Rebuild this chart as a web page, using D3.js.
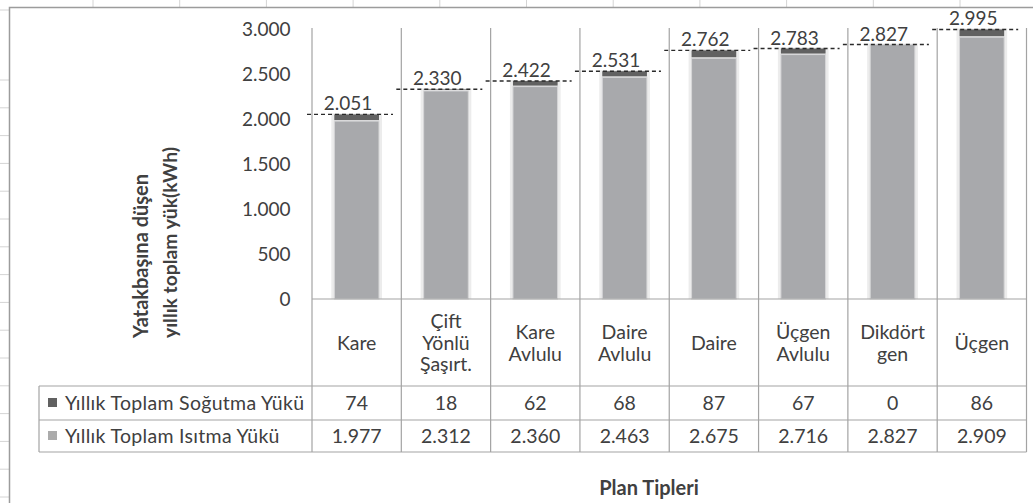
<!DOCTYPE html>
<html><head><meta charset="utf-8">
<script src="https://cdn.jsdelivr.net/npm/d3@7"></script>
<style>
html,body{margin:0;padding:0;background:#fff;}
svg{display:block;}
text{font-family:Lato,"Open Sans",sans-serif;fill:#404040;}
</style></head>
<body>
<svg id="c" width="1033" height="503"></svg>
<script>
// ---- data ----
const categories = ["Kare", "Çift\nYönlü\nŞaşırt.", "Kare\nAvlulu", "Daire\nAvlulu", "Daire", "Üçgen\nAvlulu", "Dikdört\ngen", "Üçgen"];
const coolingLoad = [74, 18, 62, 68, 87, 67, 0, 86];
const heatingLoad = [1977, 2312, 2360, 2463, 2675, 2716, 2827, 2909];
const totalLoad = [2051, 2330, 2422, 2531, 2762, 2783, 2827, 2995];
const seriesNames = ["Yıllık Toplam Soğutma Yükü", "Yıllık Toplam Isıtma Yükü"];
const yTicks = [0, 500, 1000, 1500, 2000, 2500, 3000];
const yTitle = ["Yatakbaşına düşen", "yıllık toplam yük(kWh)"];
const xTitle = "Plan Tipleri";

const tr = d3.formatLocale({decimal: ",", thousands: ".", grouping: [3], currency: ["", ""]});
const fmt = tr.format(",d");

const svg = d3.select("#c");
const W = 1033, H = 503;
const gridCol = "#d4d4d4", lineCol = "#a3a3a3";
const darkCol = "#616161", lightCol = "#a8a9ac";

// spreadsheet background lines
svg.append("g").selectAll("line").data(d3.range(11)).join("line")
  .attr("x1", i => 93 + i * 86.7).attr("x2", i => 93 + i * 86.7)
  .attr("y1", 0).attr("y2", 7).attr("stroke", gridCol);
svg.append("g").selectAll("line").data([10].concat(d3.range(16).map(i => 80 + i * 27.8))).join("line")
  .attr("x1", 0).attr("x2", 9).attr("y1", d => d).attr("y2", d => d).attr("stroke", gridCol);

// chart frame
svg.append("path").attr("d", `M9.5,${H} L9.5,7.5 L${W},7.5`).attr("fill", "none")
  .attr("stroke", "#9c9c9c").attr("stroke-width", 1.5);

// scales
const x = d3.scaleBand().domain(d3.range(categories.length)).range([312, 1026.5]);
const y = d3.scaleLinear().domain([0, 3000]).range([299, 29]);
const bw = x.bandwidth() * 0.5;
const bx = i => x(i) + (x.bandwidth() - bw) / 2;

// y axis
const yAxis = d3.axisLeft(y).tickValues(yTicks).tickFormat(fmt).tickSize(0).tickPadding(22);
const gy = svg.append("g").attr("transform", "translate(312.5,0)").call(yAxis);
gy.select(".domain").remove();
gy.selectAll("text").style("font-family", "Lato,sans-serif").style("font-size", "19px").attr("fill", "#404040");

// bars: glow
const bars = svg.append("g");
bars.selectAll("rect.glow").data(heatingLoad).join("rect").attr("class", "glow")
  .attr("x", (d, i) => bx(i) - 3).attr("width", bw + 6)
  .attr("y", (d, i) => y(totalLoad[i]) - 1).attr("height", (d, i) => y(0) - y(totalLoad[i]) + 1)
  .attr("fill", "#ececec");
bars.selectAll("rect.heat").data(heatingLoad).join("rect").attr("class", "heat")
  .attr("x", (d, i) => bx(i)).attr("width", bw)
  .attr("y", d => y(d)).attr("height", d => y(0) - y(d))
  .attr("fill", lightCol).attr("stroke", "#d6d6d8").attr("stroke-width", 1);
bars.selectAll("rect.cool").data(coolingLoad).join("rect").attr("class", "cool")
  .attr("x", (d, i) => bx(i)).attr("width", bw)
  .attr("y", (d, i) => y(heatingLoad[i] + d)).attr("height", (d, i) => Math.max(0, y(heatingLoad[i]) - y(heatingLoad[i] + d) - 1))
  .attr("fill", darkCol);

// dashed total lines and labels
const tl = svg.append("g");
tl.selectAll("line").data(totalLoad).join("line")
  .attr("x1", (d, i) => x(i) - 5).attr("x2", (d, i) => x(i) + 81)
  .attr("y1", d => y(d)).attr("y2", d => y(d))
  .attr("stroke", "#2a2a2a").attr("stroke-width", 1.4).attr("stroke-dasharray", "4,3");
tl.selectAll("text").data(totalLoad).join("text")
  .attr("x", (d, i) => x(i) + 36).attr("y", d => y(d) - 4)
  .attr("text-anchor", "middle").style("font-size", "19px").text(d => fmt(d));

// table lines
const tb = svg.append("g").attr("stroke", lineCol).attr("stroke-width", 1.2);
const xs = d3.range(categories.length + 1).map(i => i < categories.length ? x(i) : x.range()[1]);
tb.selectAll("line.v").data(xs).join("line").attr("class", "v")
  .attr("x1", d => d).attr("x2", d => d).attr("y1", 28).attr("y2", 452);
tb.append("line").attr("x1", 312).attr("x2", 1026.5).attr("y1", 299).attr("y2", 299);
tb.selectAll("line.h").data([386, 420, 452]).join("line").attr("class", "h")
  .attr("x1", 39).attr("x2", 1026.5).attr("y1", d => d).attr("y2", d => d);
tb.append("line").attr("x1", 39).attr("x2", 39).attr("y1", 386).attr("y2", 452);

// category labels
const cg = svg.append("g");
categories.forEach((c, i) => {
  const lines = c.split("\n");
  const cy = 343, lh = 21.5;
  const t = cg.append("text").attr("text-anchor", "middle").style("font-size", "19.5px");
  lines.forEach((l, k) => {
    t.append("tspan").attr("x", x(i) + x.bandwidth() / 2)
      .attr("y", cy + (k - (lines.length - 1) / 2) * lh).attr("dy", "0.35em").text(l);
  });
});

// legend rows
const rows = [coolingLoad, heatingLoad];
const rowY = [403, 436];
const rowCol = [darkCol, "#ababab"];
rows.forEach((arr, r) => {
  svg.append("rect").attr("x", 48).attr("y", rowY[r] - 5).attr("width", 9).attr("height", 9).attr("fill", rowCol[r]);
  svg.append("text").attr("x", 65).attr("y", rowY[r]).attr("dy", "0.35em").style("font-size", "19.5px")
    .style("letter-spacing", "0.3px").text(seriesNames[r]);
  svg.append("g").selectAll("text").data(arr).join("text")
    .attr("x", (d, i) => x(i) + x.bandwidth() / 2).attr("y", rowY[r]).attr("dy", "0.35em")
    .attr("text-anchor", "middle").style("font-size", "19.5px").text(d => fmt(d));
});

// axis titles
yTitle.forEach((l, k) => {
  svg.append("text").attr("transform", `translate(${148 + k * 29},338) rotate(-90)`)
    .attr("text-anchor", "start").style("font-size", k === 0 ? "20px" : "19.3px").style("font-weight", "bold").text(l);
});
svg.append("text").attr("x", 649).attr("y", 488).attr("dy", "0.35em").attr("text-anchor", "middle")
  .style("font-size", "20px").style("font-weight", "bold").text(xTitle);
</script>
</body></html>
